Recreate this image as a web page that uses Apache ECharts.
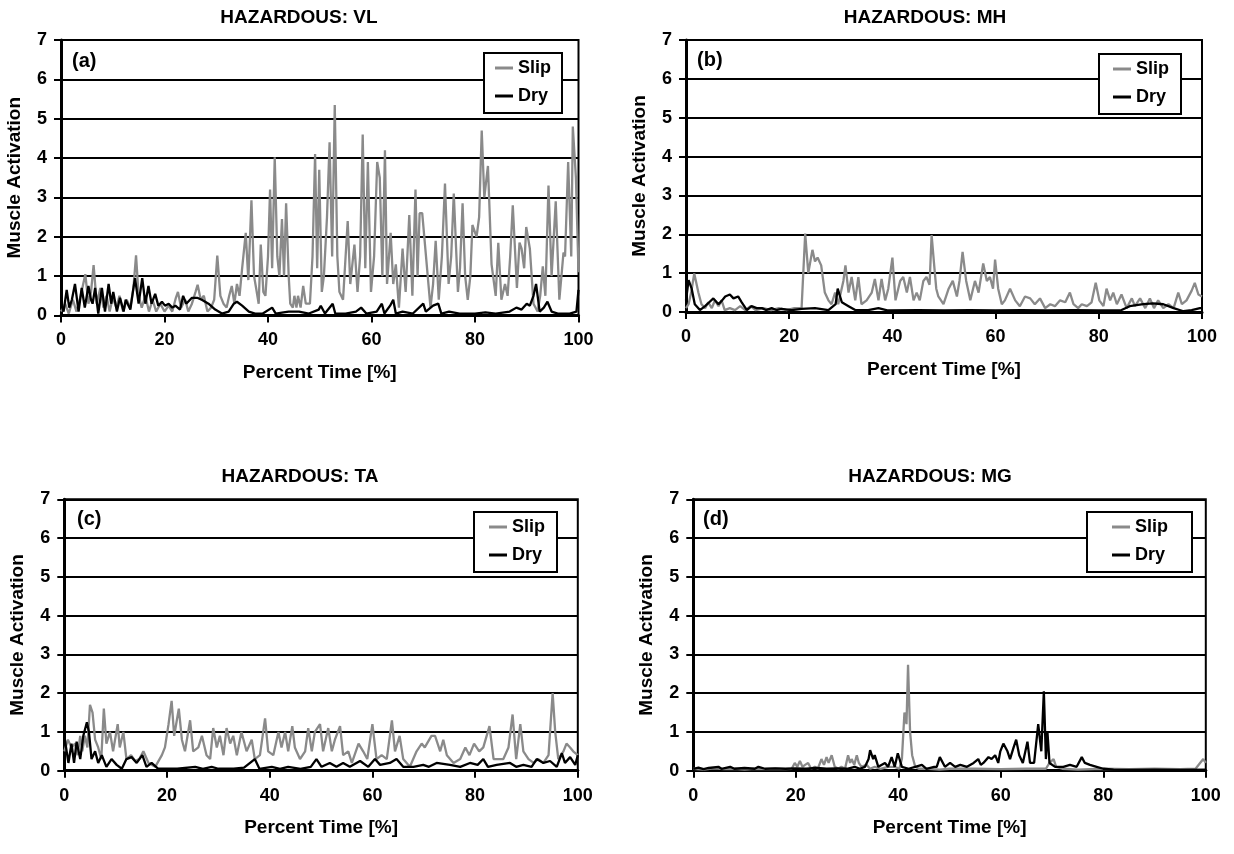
<!DOCTYPE html>
<html>
<head>
<meta charset="utf-8">
<script src="https://cdn.jsdelivr.net/npm/echarts@6/dist/echarts.min.js"></script>
<style>
html,body{margin:0;padding:0;background:#fff;}
#chart{width:1234px;height:854px;}
</style>
</head>
<body>
<div id="chart"></div>
<script>
// ---------- data ----------
var panelTitles = ['HAZARDOUS: VL', 'HAZARDOUS: MH', 'HAZARDOUS: TA', 'HAZARDOUS: MG'];
var panelTags = ['(a)', '(b)', '(c)', '(d)'];
var seriesNames = ['Slip', 'Dry'];
var xTicks = [0, 20, 40, 60, 80, 100];
var yTicks = [0, 1, 2, 3, 4, 5, 6, 7];

// [percent time, activation]
var vlSlip = [[0,0.1],[0.8,0.3],[1.5,0.05],[2.3,0.4],[3,0.1],[3.8,0.5],[4.7,1.05],[5.3,0.3],[5.8,0.6],[6.3,1.28],[6.9,0.3],[7.6,0.7],[8.2,0.2],[8.8,0.5],[9.4,0.1],[10,0.45],[10.7,0.2],[11.3,0.5],[12,0.1],[12.7,0.4],[13.4,0.2],[14,0.7],[14.5,1.53],[15,0.5],[15.6,0.2],[16.3,0.5],[17,0.1],[17.7,0.4],[18.4,0.1],[19.2,0.3],[20,0.1],[20.8,0.25],[21.5,0.1],[22.2,0.45],[22.6,0.6],[23.2,0.2],[24,0.4],[24.6,0.1],[25.3,0.3],[26,0.6],[26.4,0.78],[27,0.4],[27.6,0.5],[28.3,0.1],[29,0.2],[29.6,0.4],[30.2,1.52],[30.8,0.5],[31.4,0.3],[32,0.2],[32.5,0.5],[33,0.75],[33.5,0.3],[34,0.8],[34.5,0.5],[35,1.2],[35.7,2.1],[36.2,0.9],[36.8,2.93],[37.3,1.0],[37.7,0.7],[38.2,0.3],[38.6,1.8],[39.1,0.6],[39.5,0.5],[40,1.5],[40.4,3.2],[40.8,1.2],[41.3,4.02],[41.8,1.5],[42.2,1.0],[42.7,2.45],[43.1,1.0],[43.5,2.85],[44,1.0],[44.3,0.3],[44.8,0.2],[45.1,0.5],[45.5,0.2],[45.8,0.5],[46.3,0.2],[46.8,0.75],[47.3,0.3],[48.1,0.3],[48.6,1.5],[49.1,4.1],[49.5,1.2],[49.9,3.7],[50.4,0.6],[50.8,1.0],[51.4,2.5],[51.9,4.4],[52.4,1.5],[52.9,5.35],[53.4,1.5],[53.8,0.6],[54.5,0.4],[55.4,2.4],[55.9,0.8],[56.7,1.8],[57.3,0.6],[57.8,1.5],[58.3,4.6],[58.8,1.2],[59.3,3.9],[59.9,0.6],[60.5,1.5],[61.1,3.9],[61.6,3.5],[62.1,1.0],[62.6,4.2],[63,0.8],[63.7,2.1],[64.2,0.8],[64.7,1.3],[65.3,0.2],[66,1.7],[66.6,0.6],[67.3,2.55],[67.9,0.5],[68.5,3.2],[68.9,1.0],[69.3,2.6],[69.8,2.6],[70.6,1.4],[71.4,0.2],[71.9,0.8],[72.4,1.9],[73,0.4],[73.6,1.5],[74.2,3.35],[74.9,0.8],[75.4,1.5],[75.9,3.1],[76.7,0.6],[77.1,1.2],[77.6,2.85],[78.1,1.0],[78.6,0.4],[79.1,1.0],[79.5,2.3],[80.3,2.0],[80.8,2.5],[81.3,4.7],[81.8,3.0],[82.5,3.8],[83.2,1.3],[83.5,1.3],[84,0.5],[84.5,1.85],[85.1,0.4],[85.8,0.8],[86.3,0.5],[86.8,1.5],[87.3,2.8],[88.1,0.7],[88.6,1.85],[89,1.7],[89.5,1.2],[89.9,2.25],[90.6,1.7],[91.3,0.3],[92.1,0.1],[92.6,0.5],[93.1,1.25],[93.6,0.5],[94.2,3.3],[94.8,1.0],[95.6,2.9],[96.3,0.4],[97.1,1.6],[97.4,1.5],[98,3.9],[98.6,1.5],[98.9,4.8],[99.5,3.5],[100,1.1]];
var vlDry = [[0,0.3],[0.5,0.1],[1.1,0.65],[1.6,0.2],[2.1,0.4],[2.7,0.8],[3.2,0.3],[3.4,0.1],[4,0.7],[4.6,0.2],[5.3,0.75],[5.8,0.4],[6.1,0.3],[6.6,0.7],[7.2,0.05],[7.9,0.7],[8.5,0.1],[9.2,0.8],[9.7,0.3],[10.1,0.6],[10.8,0.1],[11.4,0.45],[12.1,0.1],[12.5,0.4],[13.4,0.15],[14,0.7],[14.3,0.95],[15,0.3],[15.7,0.95],[16.3,0.3],[16.9,0.75],[17.5,0.3],[18.2,0.55],[18.8,0.25],[19.5,0.35],[20.1,0.25],[20.8,0.3],[21.5,0.2],[22.1,0.25],[23,0.15],[23.6,0.5],[24.2,0.3],[25.3,0.45],[26.3,0.45],[27.2,0.4],[28.5,0.3],[29.8,0.15],[31.1,0.05],[32.4,0.1],[33.4,0.3],[34,0.35],[35,0.25],[36.3,0.1],[37.5,0.05],[39,0.05],[40.8,0.2],[41.5,0.05],[43,0.08],[44,0.1],[46,0.1],[47.9,0.05],[49.8,0.15],[50.2,0.25],[51,0.05],[52.5,0.3],[53,0.05],[55,0.05],[57,0.1],[58,0.2],[59,0.05],[61,0.1],[62,0.3],[62.5,0.05],[63.6,0.25],[64.2,0.4],[64.7,0.05],[66,0.1],[68,0.05],[70,0.3],[70.5,0.1],[71.9,0.25],[72.9,0.3],[73.5,0.05],[75,0.1],[77,0.05],[80,0.05],[82,0.08],[84,0.05],[86.7,0.1],[88,0.2],[89,0.15],[90,0.3],[90.6,0.25],[91.3,0.5],[91.8,0.8],[92.5,0.1],[93.3,0.2],[94,0.35],[94.8,0.1],[96,0.05],[98.3,0.05],[99.6,0.1],[100,0.65]];
var mhSlip = [[0,0.1],[0.5,0.2],[1,0.5],[1.6,0.99],[2.4,0.5],[3,0.2],[3.7,0.1],[4.3,0.25],[5,0.1],[5.6,0.3],[6.3,0.15],[6.9,0.3],[7.5,0.05],[8.5,0.1],[9.5,0.05],[10.5,0.15],[11.5,0.05],[12.5,0.15],[13.5,0.05],[15,0.1],[16.5,0.05],[18,0.1],[19.5,0.05],[21,0.1],[22.4,0.1],[23.1,2.02],[23.7,1.0],[24.5,1.6],[25,1.3],[25.5,1.4],[26.2,1.2],[26.9,0.5],[27.6,0.3],[28.2,0.2],[28.9,0.5],[29.5,0.2],[30.5,0.8],[30.9,1.2],[31.5,0.5],[32.1,0.9],[32.8,0.3],[33.4,0.9],[34,0.2],[35,0.3],[36,0.5],[36.6,0.85],[37.3,0.3],[37.9,0.85],[38.6,0.3],[39.2,0.6],[40,1.4],[40.6,0.3],[41.5,0.8],[42.1,0.9],[42.8,0.5],[43.4,0.9],[44.1,0.3],[44.7,0.5],[45.3,0.3],[46,0.8],[46.6,0.9],[47.2,0.7],[47.6,1.98],[48.1,1.2],[48.5,0.6],[48.9,0.4],[49.9,0.2],[50.9,0.6],[51.7,0.8],[52.5,0.4],[53,0.8],[53.6,1.55],[54.3,0.8],[55.1,0.3],[56,0.8],[56.7,0.5],[57.6,1.25],[58.3,0.8],[58.9,0.9],[59.5,0.6],[59.9,1.35],[60.5,0.6],[61.2,0.2],[61.8,0.3],[62.8,0.6],[63.8,0.3],[64.7,0.15],[65.7,0.4],[66.7,0.35],[67.6,0.2],[68.6,0.35],[69.6,0.1],[70.6,0.2],[71.5,0.15],[72.5,0.3],[73.5,0.25],[74.4,0.5],[75.1,0.2],[76,0.1],[76.7,0.2],[77.7,0.15],[78.6,0.25],[79.4,0.75],[80.1,0.3],[80.9,0.15],[81.5,0.6],[82.2,0.3],[82.8,0.5],[83.5,0.2],[84.4,0.45],[85.4,0.1],[86.4,0.35],[87,0.15],[88,0.35],[89,0.1],[89.9,0.35],[90.7,0.1],[91.5,0.3],[92.5,0.1],[93.5,0.2],[94.5,0.1],[95.4,0.5],[96.1,0.2],[97,0.3],[98,0.55],[98.6,0.75],[99.3,0.45],[100,0.4]];
var mhDry = [[0,0.3],[0.5,0.82],[1.1,0.6],[1.7,0.2],[2.7,0.05],[3.7,0.15],[4.5,0.25],[5.3,0.35],[6.3,0.2],[7,0.3],[7.6,0.4],[8.5,0.45],[9.2,0.35],[10.1,0.4],[10.8,0.25],[11.8,0.05],[12.7,0.15],[13.7,0.1],[14.7,0.1],[15.5,0.05],[16.6,0.1],[17.5,0.05],[18.5,0.08],[20.5,0.05],[22.4,0.08],[25,0.1],[27.6,0.05],[29,0.2],[29.4,0.6],[30.2,0.25],[31.5,0.15],[32.8,0.05],[35.3,0.05],[37.3,0.1],[39,0.04],[45,0.05],[50,0.04],[55,0.05],[60,0.04],[65,0.05],[70,0.04],[75,0.05],[80,0.04],[84.4,0.05],[86,0.15],[88.6,0.2],[90.5,0.22],[92.5,0.2],[94.5,0.1],[96.4,0.02],[98,0.05],[99.6,0.1],[100,0.1]];
var taSlip = [[0,0.5],[0.7,0.8],[1.4,0.6],[2.1,0.7],[2.6,0.4],[3.1,0.9],[3.5,0.5],[4,0.9],[4.5,0.6],[5,1.7],[5.5,1.5],[6,0.8],[6.6,0.6],[7.2,0.3],[7.7,1.6],[8.2,0.7],[8.9,1.0],[9.5,0.5],[10.4,1.2],[10.8,0.6],[11.5,1.0],[12.1,0.3],[13,0.4],[13.8,0.25],[14.6,0.3],[15.4,0.5],[16.4,0.2],[17.7,0.1],[19,0.4],[19.6,0.6],[20.3,1.2],[20.9,1.8],[21.4,0.9],[22.3,1.6],[22.9,0.8],[23.5,0.5],[24.5,1.3],[25.1,0.5],[26.1,0.6],[26.8,0.9],[27.7,0.4],[28.4,0.3],[29,1.1],[29.7,0.6],[30.3,0.9],[31,0.4],[31.6,1.1],[32.3,0.7],[32.9,0.9],[33.6,0.4],[34.5,1.0],[35.5,0.5],[36.5,0.8],[37.1,0.3],[38.1,0.4],[39.1,1.35],[39.7,0.5],[40.7,0.4],[41.7,1.0],[42.3,0.6],[43,1.0],[43.6,0.5],[44.4,1.15],[44.9,0.6],[45.9,0.3],[46.9,0.5],[47.5,1.1],[48.2,0.5],[48.8,1.0],[49.8,1.2],[50.4,0.5],[51.4,1.1],[52.1,0.5],[52.7,0.8],[53.7,1.15],[54.3,0.4],[55.3,0.5],[56,0.2],[57.3,0.7],[58.2,0.5],[59,0.3],[60,1.2],[60.8,0.3],[61.8,0.4],[62.8,0.3],[63.8,1.3],[64.4,0.5],[65.3,0.9],[66,0.3],[67.3,0.1],[68.6,0.5],[69.6,0.7],[70.2,0.6],[71.5,0.9],[72.2,0.9],[73.2,0.5],[73.8,0.8],[74.5,0.4],[75.8,0.2],[77.1,0.3],[78.1,0.6],[78.9,0.4],[79.8,0.7],[80.8,0.5],[81.6,0.6],[82.8,1.15],[83.6,0.3],[84.5,0.3],[85.5,0.3],[86.5,0.6],[87.3,1.45],[88,0.3],[88.8,1.2],[89.4,0.5],[90.4,0.3],[91.4,0.2],[92.3,0.3],[93.3,0.2],[94.3,0.4],[95.1,2.0],[95.6,1.0],[96.2,0.3],[97.2,0.5],[97.8,0.7],[98.5,0.6],[99.1,0.5],[100,0.4]];
var taDry = [[0,0.9],[0.8,0.2],[1.4,0.7],[1.9,0.2],[2.4,0.75],[3.1,0.3],[3.7,0.9],[4.4,1.25],[4.8,1.0],[5.3,0.3],[6,0.5],[6.6,0.2],[7.3,0.4],[8.2,0.1],[9.2,0.3],[10.2,0.15],[11.2,0.05],[12.1,0.3],[13.1,0.35],[14.1,0.2],[15.2,0.4],[16,0.1],[17,0.2],[18.3,0.05],[20,0.05],[22,0.05],[25.5,0.1],[27,0.05],[28.7,0.1],[30,0.05],[33,0.05],[35,0.08],[37.1,0.3],[38,0.05],[40.4,0.1],[42,0.05],[43.6,0.1],[46,0.05],[48,0.1],[49.1,0.3],[50.1,0.1],[51.7,0.2],[53,0.1],[54.3,0.2],[55.6,0.1],[57.6,0.25],[59.2,0.1],[60.5,0.3],[61.5,0.15],[63.4,0.2],[64.7,0.3],[66,0.1],[68,0.1],[69.9,0.15],[71,0.1],[72.5,0.2],[75.1,0.15],[77.1,0.1],[79,0.2],[80.5,0.15],[81.6,0.3],[82.5,0.1],[84.2,0.15],[86.8,0.2],[88,0.1],[89.4,0.15],[91,0.1],[92,0.3],[93.3,0.2],[94.6,0.25],[95.9,0.1],[96.9,0.45],[97.5,0.2],[98.5,0.35],[99.5,0.15],[100,0.4]];
var mgSlip = [[0,0.05],[2,0.03],[4,0.06],[6,0.04],[8,0.05],[10,0.03],[12,0.05],[14,0.04],[16,0.05],[18,0.04],[19.2,0.05],[19.8,0.2],[20.3,0.1],[20.8,0.25],[21.3,0.1],[21.8,0.15],[22.4,0.2],[23,0.05],[23.7,0.1],[24.3,0.05],[25,0.3],[25.5,0.15],[26,0.35],[26.4,0.2],[26.7,0.3],[27,0.4],[27.6,0.1],[28.3,0.05],[28.9,0.1],[29.6,0.05],[30.2,0.4],[30.6,0.2],[30.9,0.3],[31.4,0.15],[31.9,0.4],[32.3,0.2],[32.8,0.1],[33.8,0.15],[34.5,0.05],[35.4,0.1],[36.5,0.05],[38,0.1],[39.3,0.1],[40.2,0.05],[40.7,0.3],[41.2,1.5],[41.6,1.2],[41.9,2.73],[42.3,1.0],[42.7,0.4],[43.3,0.1],[44,0.05],[46,0.05],[48,0.03],[50,0.05],[55,0.05],[60,0.04],[65,0.05],[68.8,0.05],[69.5,0.2],[70.3,0.3],[70.8,0.1],[72,0.05],[75,0.03],[80,0.05],[85,0.04],[90,0.05],[95,0.04],[98,0.05],[99.5,0.3],[100,0.2]];
var mgDry = [[0,0.05],[1,0.08],[2,0.04],[3,0.07],[4.9,0.1],[5.5,0.05],[7.2,0.1],[8,0.05],[10,0.07],[12,0.05],[12.7,0.1],[14,0.05],[16,0.06],[18,0.05],[20,0.06],[22,0.05],[24,0.07],[26,0.05],[28,0.06],[30,0.05],[31.5,0.1],[32.5,0.05],[33.5,0.1],[34.2,0.3],[34.5,0.53],[35.1,0.3],[35.4,0.4],[36.1,0.1],[37.4,0.2],[38,0.1],[38.7,0.35],[39.3,0.1],[39.9,0.45],[40.7,0.1],[42,0.05],[43.3,0.1],[44.6,0.15],[45.5,0.05],[47,0.1],[47.5,0.1],[48.1,0.35],[49.1,0.1],[50.1,0.2],[51.1,0.1],[52.1,0.15],[53.4,0.1],[54.7,0.2],[55.6,0.3],[56.1,0.15],[56.6,0.2],[57.6,0.35],[58.2,0.3],[58.9,0.4],[59.5,0.2],[59.9,0.5],[60.5,0.7],[61.3,0.5],[61.8,0.3],[62.5,0.6],[63,0.8],[63.6,0.4],[64.3,0.2],[65.2,0.75],[65.7,0.2],[66.5,0.2],[67.3,1.2],[67.9,0.5],[68.4,2.05],[68.8,0.3],[69.1,1.0],[69.5,0.2],[70.6,0.1],[72.2,0.1],[73.5,0.15],[74.8,0.1],[75.8,0.35],[76.4,0.2],[77.4,0.15],[78.7,0.1],[80,0.05],[82,0.03],[85,0.02],[90,0.03],[95,0.02],[100,0.03]];

var slipData = [vlSlip, mhSlip, taSlip, mgSlip];
var dryData = [vlDry, mhDry, taDry, mgDry];

// ---------- layout / style ----------
var FONT = '"Liberation Sans", Arial, Helvetica, sans-serif';
var SLIP_COLOR = '#8a8a8a';
var DRY_COLOR = '#000000';
var grids = [
  {left: 61, top: 40, width: 517.5, height: 275.5},
  {left: 686, top: 40, width: 516, height: 272},
  {left: 64.3, top: 499.3, width: 513.5, height: 271.4},
  {left: 693.3, top: 499.3, width: 512.5, height: 271.4}
];
var titlePos = [[294, 3], [920, 3], [295, 462], [925, 462]];
var tagPos = [[72, 62], [697, 61], [77, 520], [703, 520]];
var legendPos = [
  {left: 484, top: 53, padding: [6, 11, 8, 11]},
  {left: 1099, top: 54, padding: [6, 12, 8, 14]},
  {left: 474, top: 512, padding: [6, 12, 8, 15]},
  {left: 1087, top: 512, padding: [6, 24, 8, 25]}
];

var option = {
  backgroundColor: '#ffffff',
  animation: false,
  title: [], grid: [], xAxis: [], yAxis: [], legend: [], series: [], graphic: []
};

for (var i = 0; i < 4; i++) {
  option.title.push({
    text: panelTitles[i], left: titlePos[i][0], top: titlePos[i][1], textAlign: 'center',
    textStyle: {fontFamily: FONT, fontWeight: 'bold', fontSize: 19, color: '#000'}
  });
  option.grid.push({
    left: grids[i].left, top: grids[i].top, width: grids[i].width, height: grids[i].height,
    show: true, borderColor: '#000', borderWidth: 2, backgroundColor: 'transparent'
  });
  option.xAxis.push({
    gridIndex: i, type: 'value', min: xTicks[0], max: xTicks[xTicks.length - 1], interval: 20,
    name: 'Percent Time [%]', nameLocation: 'middle', nameGap: 48,
    nameTextStyle: {fontFamily: FONT, fontWeight: 'bold', fontSize: 19, color: '#000'},
    axisLine: {show: true, onZero: false, lineStyle: {color: '#000', width: 3}},
    axisTick: {show: true, length: 7, lineStyle: {color: '#000', width: 2}},
    axisLabel: {fontFamily: FONT, fontWeight: 'bold', fontSize: 18, color: '#000', margin: 16},
    splitLine: {show: false}
  });
  option.yAxis.push({
    gridIndex: i, type: 'value', min: yTicks[0], max: yTicks[yTicks.length - 1], interval: 1,
    name: 'Muscle Activation', nameLocation: 'middle', nameGap: 37, nameRotate: 90,
    nameTextStyle: {fontFamily: FONT, fontWeight: 'bold', fontSize: 19, color: '#000'},
    axisLine: {show: true, lineStyle: {color: '#000', width: 3}},
    axisTick: {show: true, length: 7, lineStyle: {color: '#000', width: 2}},
    axisLabel: {fontFamily: FONT, fontWeight: 'bold', fontSize: 18, color: '#000', margin: 14},
    splitLine: {show: true, lineStyle: {color: '#000', width: 2}}
  });
  option.legend.push({
    left: legendPos[i].left, top: legendPos[i].top, orient: 'vertical',
    data: seriesNames, icon: 'rect', itemWidth: 18, itemHeight: 3, itemGap: 10,
    padding: legendPos[i].padding, borderColor: '#000', borderWidth: 2, backgroundColor: '#fff',
    selectedMode: false,
    textStyle: {fontFamily: FONT, fontWeight: 'bold', fontSize: 18, color: '#000', lineHeight: 18}
  });
  option.series.push({
    name: seriesNames[0], type: 'line', xAxisIndex: i, yAxisIndex: i, data: slipData[i],
    showSymbol: false, symbol: 'none', smooth: false,
    lineStyle: {color: SLIP_COLOR, width: 2.3}, itemStyle: {color: SLIP_COLOR}, z: 2
  });
  option.series.push({
    name: seriesNames[1], type: 'line', xAxisIndex: i, yAxisIndex: i, data: dryData[i],
    showSymbol: false, symbol: 'none', smooth: false,
    lineStyle: {color: DRY_COLOR, width: 2.3}, itemStyle: {color: DRY_COLOR}, z: 3
  });
  option.graphic.push({
    type: 'text', left: tagPos[i][0], top: tagPos[i][1] - 11, z: 10,
    style: {text: panelTags[i], fontFamily: FONT, fontWeight: 'bold', fontSize: 20, fill: '#000'}
  });
}

var chart = echarts.init(document.getElementById('chart'), null, {renderer: 'canvas'});
chart.setOption(option);
</script>
</body>
</html>
